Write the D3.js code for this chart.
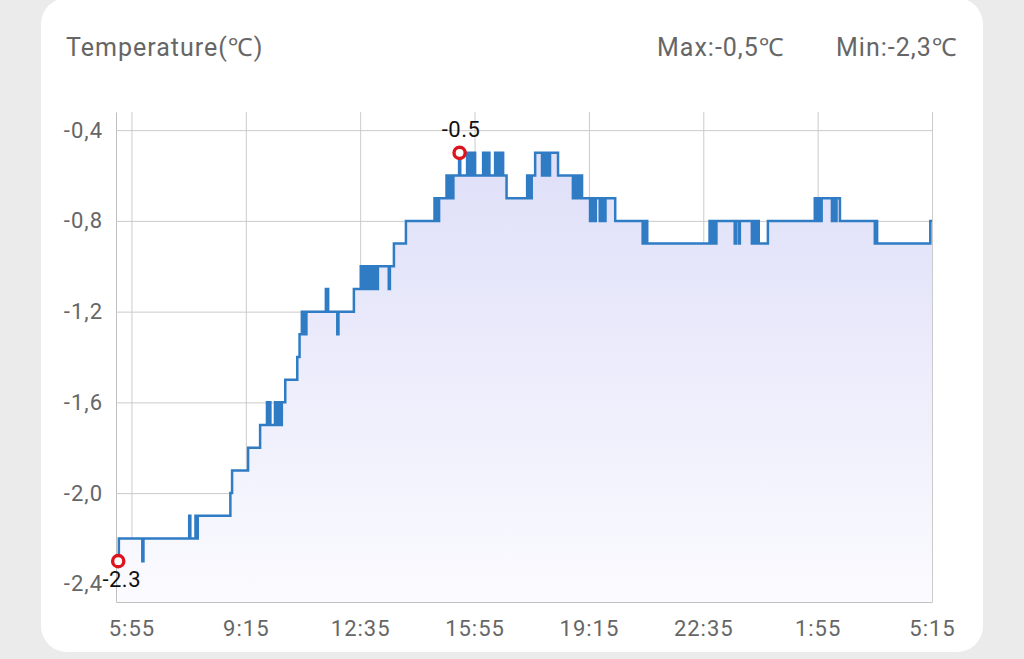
<!DOCTYPE html>
<html>
<head>
<meta charset="utf-8">
<script src="https://cdn.jsdelivr.net/npm/d3@7"></script>
<style>
  html, body { margin: 0; padding: 0; background: #ebebeb; }
  svg { display: block; }
  text { font-family: Roboto, "Noto Sans", sans-serif; }
</style>
</head>
<body>
<svg id="chart" width="1024" height="659"></svg>
<script>
// ---- DATA ----
const chartTitle = "Temperature(℃)";
const unit = "℃";
const xStart = "5:28";
const xTickLabels = ["5:55", "9:15", "12:35", "15:55", "19:15", "22:35", "1:55", "5:15"];
const yTicks = [-0.4, -0.8, -1.2, -1.6, -2.0, -2.4];
const yTickLabels = ["-0,4", "-0,8", "-1,2", "-1,6", "-2,0", "-2,4"];

const times = [
  "5:31","5:33","6:14","6:16","7:36","7:38","7:47","7:49","7:51","8:48","8:51","9:19","9:40",
  "9:52","9:54","9:56","9:58","10:06","10:08","10:10","10:12","10:14","10:16","10:18","10:24",
  "10:45","10:49","10:53","10:55","10:57","10:59","11:01","11:35","11:39","11:55","11:57","12:24",
  "12:36","12:38","12:40","12:42","12:44","12:46","12:48",
  "12:52","12:54","12:56","12:58","13:00","13:02","13:04","13:06",
  "13:25","13:27","13:34","13:55",
  "14:45","14:47","14:49","14:51","14:53",
  "15:06","15:08","15:10","15:12","15:14","15:16","15:18",
  "15:28","15:30",
  "15:42","15:44","15:46","15:48","15:50","15:52","15:54","15:56",
  "16:10","16:12","16:14","16:16","16:18","16:21",
  "16:31","16:33","16:35","16:37","16:39","16:41","16:43","16:45",
  "16:51",
  "17:27","17:29","17:31","17:33","17:35","17:41",
  "17:53","17:55","17:57","17:59","18:01","18:03","18:05","18:07",
  "18:21",
  "18:47","18:49","18:51","18:53","18:55","18:57","18:59","19:01","19:03",
  "19:17","19:19","19:21","19:23","19:25","19:27",
  "19:34","19:36","19:38","19:40","19:42","19:44",
  "20:01",
  "20:49","20:51","20:53","20:55","20:57",
  "22:46","22:48","22:50","22:52","22:54","22:56","22:58",
  "23:30","23:32","23:37","23:39",
  "0:00","0:02","0:04","0:06","0:08","0:10","0:12",
  "0:28",
  "1:50","1:52","1:54","1:56","1:58","2:00","2:02",
  "2:20","2:22","2:26","2:28","2:34",
  "3:35","3:37","3:39",
  "5:12","5:15"
];
const temps = [
  -2.3,-2.2,-2.3,-2.2,-2.1,-2.2,-2.1,-2.2,-2.1,-2.0,-1.9,-1.8,-1.7,
  -1.6,-1.7,-1.6,-1.7,-1.6,-1.7,-1.6,-1.7,-1.6,-1.7,-1.6,-1.5,
  -1.4,-1.3,-1.2,-1.3,-1.2,-1.3,-1.2,-1.1,-1.2,-1.3,-1.2,-1.1,
  -1.0,-1.1,-1.0,-1.1,-1.0,-1.1,-1.0,
  -1.1,-1.0,-1.1,-1.0,-1.1,-1.0,-1.1,-1.0,
  -1.1,-1.0,-0.9,-0.8,
  -0.7,-0.8,-0.7,-0.8,-0.7,
  -0.6,-0.7,-0.6,-0.7,-0.6,-0.7,-0.6,
  -0.5,-0.6,
  -0.5,-0.6,-0.5,-0.6,-0.5,-0.6,-0.5,-0.6,
  -0.5,-0.6,-0.5,-0.6,-0.5,-0.6,
  -0.5,-0.6,-0.5,-0.6,-0.5,-0.6,-0.5,-0.6,
  -0.7,
  -0.6,-0.7,-0.6,-0.7,-0.6,-0.5,
  -0.6,-0.5,-0.6,-0.5,-0.6,-0.5,-0.6,-0.5,
  -0.6,
  -0.7,-0.6,-0.7,-0.6,-0.7,-0.6,-0.7,-0.6,-0.7,
  -0.8,-0.7,-0.8,-0.7,-0.8,-0.7,
  -0.8,-0.7,-0.8,-0.7,-0.8,-0.7,
  -0.8,
  -0.9,-0.8,-0.9,-0.8,-0.9,
  -0.8,-0.9,-0.8,-0.9,-0.8,-0.9,-0.8,
  -0.9,-0.8,-0.9,-0.8,
  -0.9,-0.8,-0.9,-0.8,-0.9,-0.8,-0.9,
  -0.8,
  -0.7,-0.8,-0.7,-0.8,-0.7,-0.8,-0.7,
  -0.8,-0.7,-0.8,-0.7,-0.8,
  -0.9,-0.8,-0.9,
  -0.8,-0.8
];

// ---- TIME PARSING (rolls over midnight) ----
function parseSequence(list) {
  let day = 0, prev = -1;
  return list.map(s => {
    const [h, m] = s.split(":").map(Number);
    const mins = h * 60 + m;
    if (mins < prev) day += 1;
    prev = mins;
    return new Date(2024, 0, 1 + day, h, m);
  });
}
const parsedAll = parseSequence([xStart].concat(times));
const startDate = parsedAll[0];
const dates = parsedAll.slice(1);
const tickDates = parseSequence([xStart].concat(xTickLabels)).slice(1);
const data = dates.map((d, i) => ({ t: d, v: temps[i] }));

// ---- LAYOUT ----
const svg = d3.select("#chart");
const margin = { left: 116, right: 92, top: 112, bottom: 57 };
const W = 1024, H = 659;
const plotW = W - margin.left - margin.right;
const plotH = H - margin.top - margin.bottom;

// card
svg.append("rect").attr("x", 41).attr("y", -2).attr("width", 942).attr("height", 654)
  .attr("rx", 26).attr("fill", "#ffffff");

// header texts
const vMax = d3.max(temps), vMin = d3.min(temps);
const fmtComma = v => d3.format(".1f")(v).replace(".", ",").replace("−", "-");
const header = [
  { x: 66, s: chartTitle },
  { x: 657, s: "Max:" + fmtComma(vMax) + unit },
  { x: 836, s: "Min:" + fmtComma(vMin) + unit }
];
svg.selectAll("text.hdr").data(header).join("text").attr("class", "hdr")
  .attr("x", d => d.x).attr("y", 56).text(d => d.s)
  .attr("font-size", 25).attr("fill", "#666").attr("letter-spacing", 1);

// scales
const pad = (vMax - vMin) * 0.1;
const x = d3.scaleTime().domain([startDate, dates[dates.length - 1]]).range([0, plotW]);
const y = d3.scaleLinear().domain([vMin - pad, vMax + pad]).range([plotH, 0]);

const g = svg.append("g").attr("transform", `translate(${margin.left},${margin.top})`);

// gradient
const defs = svg.append("defs");
const grad = defs.append("linearGradient").attr("id", "fillGrad")
  .attr("gradientUnits", "userSpaceOnUse")
  .attr("x1", 0).attr("y1", 0).attr("x2", 0).attr("y2", plotH);
grad.append("stop").attr("offset", "0%").attr("stop-color", "#dcdcf8");
grad.append("stop").attr("offset", "100%").attr("stop-color", "#fbfbff");

// axes / grid
const xAxis = d3.axisBottom(x).tickValues(tickDates)
  .tickFormat((d, i) => xTickLabels[i]).tickSizeInner(-plotH).tickSizeOuter(0).tickPadding(18);
const yAxis = d3.axisLeft(y).tickValues(yTicks)
  .tickFormat((d, i) => yTickLabels[i]).tickSizeInner(-plotW).tickSizeOuter(0).tickPadding(13);

const gx = g.append("g").attr("transform", `translate(0,${plotH})`).call(xAxis);
const gy = g.append("g").call(yAxis);
[gx, gy].forEach(a => {
  a.selectAll(".tick line").attr("stroke", "#cbcbcb").attr("stroke-width", 1);
  a.select(".domain").attr("stroke", "#c0c0c0").attr("stroke-width", 1);
  a.selectAll(".tick text").attr("font-size", 22).attr("fill", "#666")
    .attr("letter-spacing", 1).attr("font-family", "Roboto, 'Noto Sans', sans-serif");
});

// area + line
const area = d3.area().curve(d3.curveStepAfter)
  .x(d => x(d.t)).y0(plotH).y1(d => y(d.v));
const line = d3.line().curve(d3.curveStepAfter)
  .x(d => x(d.t)).y(d => y(d.v));

g.append("path").datum(data).attr("d", area).attr("fill", "url(#fillGrad)");
g.append("path").datum(data).attr("d", line).attr("fill", "none")
  .attr("stroke", "#2f7cc4").attr("stroke-width", 2.5).attr("stroke-linejoin", "miter");

// markers for max / min
const maxPt = data.find(d => d.v === vMax);
const minPt = data.find(d => d.v === vMin);
[maxPt, minPt].forEach(p => {
  g.append("circle").attr("cx", x(p.t) + 0.5).attr("cy", y(p.v)).attr("r", 5.6)
    .attr("fill", "#fff").attr("stroke", "#dc1420").attr("stroke-width", 3.4);
});
const fmtDot = d3.format(".1f");
g.append("text").attr("x", x(maxPt.t) + 2).attr("y", y(maxPt.v) - 16)
  .attr("text-anchor", "middle").attr("font-size", 22).attr("fill", "#111")
  .attr("letter-spacing", 0.5).text(fmtDot(maxPt.v).replace("−", "-"));
g.append("text").attr("x", x(minPt.t) + 4).attr("y", y(minPt.v) + 26)
  .attr("text-anchor", "middle").attr("font-size", 22).attr("fill", "#111")
  .attr("letter-spacing", 0.5).text(fmtDot(minPt.v).replace("−", "-"));
</script>
</body>
</html>
